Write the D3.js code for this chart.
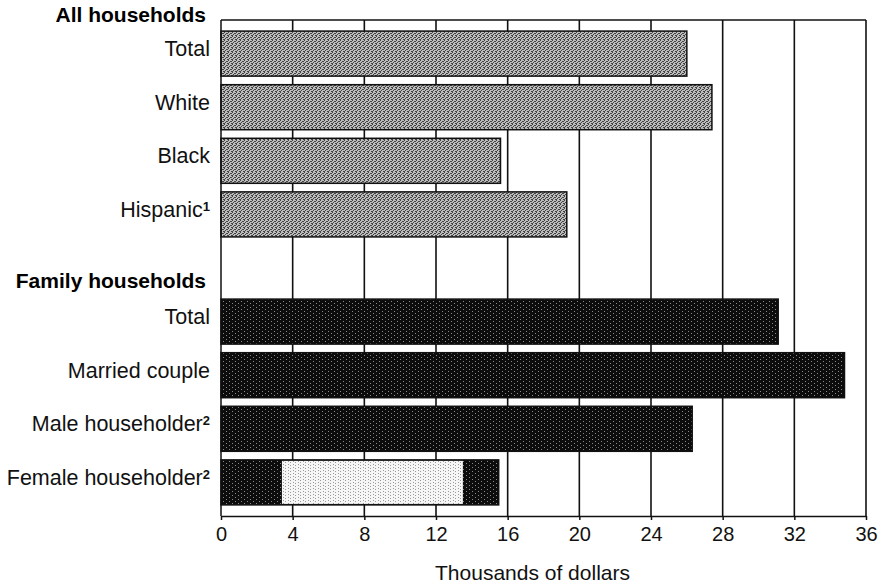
<!DOCTYPE html>
<html lang="en">
<head>
<meta charset="UTF-8" />
<title>Median income by household type</title>
<script src="https://d3js.org/d3.v7.min.js"></script>
<style>
  body { margin: 0; background: #fff; }
  svg { display: block; font-family: "Liberation Sans", Arial, Helvetica, sans-serif; }
  .label { font-size: 21.5px; fill: #111; }
  .head { font-size: 21px; font-weight: bold; fill: #000; }
  .title { font-size: 21px; fill: #111; }
  .axis text { font-size: 20px; fill: #111; }
  .axis path, .axis line { stroke: #111; stroke-width: 1.5; }
</style>
</head>
<body>
<div id="chart"></div>
<script>
// rows from top to bottom, the "fam-head" row only carries the group heading
const rows = ["all-total", "all-white", "all-black", "all-hispanic", "fam-head",
              "fam-total", "fam-married", "fam-male", "fam-female"];
const rowLabels = ["Total", "White", "Black", "Hispanic", "Family households",
                   "Total", "Married couple", "Male householder", "Female householder"];
const rowNotes = ["", "", "", "1", "", "", "", "2", "2"];
const rowGroups = ["all", "all", "all", "all", "header", "family", "family", "family", "family"];
const incomes = [26.0, 27.4, 15.6, 19.3, null, 31.1, 34.8, 26.3, 15.5];   // thousands of dollars
const xTicks = [0, 4, 8, 12, 16, 20, 24, 28, 32, 36];
const topHeading = "All households";
const xTitle = "Thousands of dollars";
// pale, washed-out stretch inside the female householder bar
const femaleLightSpan = [3.4, 13.5];

const W = 880, H = 585;
const margin = { top: 20, right: 14, bottom: 69, left: 221 };

const svg = d3.select("#chart").append("svg")
    .attr("width", W)
    .attr("height", H);

svg.append("rect").attr("width", W).attr("height", H).attr("fill", "#fff");

// halftone-like fills
const defs = svg.append("defs");
const grayPat = defs.append("pattern").attr("id", "gray")
    .attr("patternUnits", "userSpaceOnUse").attr("width", 4).attr("height", 4);
grayPat.append("rect").attr("width", 4).attr("height", 4).attr("fill", "#bcbcbc");
[[0, 0], [2, 1], [1, 2], [3, 3], [3, 1], [0, 3]].forEach(p =>
    grayPat.append("rect").attr("x", p[0]).attr("y", p[1]).attr("width", 1).attr("height", 1).attr("fill", "#444"));

const darkPat = defs.append("pattern").attr("id", "dark")
    .attr("patternUnits", "userSpaceOnUse").attr("width", 6).attr("height", 4);
darkPat.append("rect").attr("width", 6).attr("height", 4).attr("fill", "#0c0c0c");
[[1, 1], [4, 3]].forEach(p =>
    darkPat.append("rect").attr("x", p[0]).attr("y", p[1]).attr("width", 1).attr("height", 1).attr("fill", "#8a8a8a"));

const palePat = defs.append("pattern").attr("id", "pale")
    .attr("patternUnits", "userSpaceOnUse").attr("width", 5).attr("height", 3);
palePat.append("rect").attr("width", 5).attr("height", 3).attr("fill", "#f6f6f6");
[[0, 0], [3, 2]].forEach(p =>
    palePat.append("rect").attr("x", p[0]).attr("y", p[1]).attr("width", 1).attr("height", 1).attr("fill", "#9a9a9a"));

const x = d3.scaleLinear()
    .domain([0, 36])
    .range([margin.left, W - margin.right]);

const y = d3.scaleBand()
    .domain(rows)
    .range([margin.top, H - margin.bottom])
    .paddingInner(0.16)
    .paddingOuter(0.207);

const data = rows.map((id, i) => ({
    id, label: rowLabels[i], note: rowNotes[i], group: rowGroups[i], value: incomes[i]
}));

// vertical grid lines behind the bars
svg.append("g")
    .selectAll("line")
    .data(xTicks.slice(1))
    .join("line")
    .attr("x1", d => x(d)).attr("x2", d => x(d))
    .attr("y1", margin.top).attr("y2", H - margin.bottom)
    .attr("stroke", "#111").attr("stroke-width", 1.6);

// bars
const bars = data.filter(d => d.value != null);
svg.append("g")
    .selectAll("rect")
    .data(bars)
    .join("rect")
    .attr("x", x(0))
    .attr("y", d => y(d.id))
    .attr("width", d => x(d.value) - x(0))
    .attr("height", y.bandwidth())
    .attr("fill", d => d.group === "all" ? "url(#gray)" : "url(#dark)")
    .attr("stroke", "#111")
    .attr("stroke-width", 1.5);

svg.append("rect")
    .attr("x", x(femaleLightSpan[0]))
    .attr("y", y("fam-female") + 1)
    .attr("width", x(femaleLightSpan[1]) - x(femaleLightSpan[0]))
    .attr("height", y.bandwidth() - 2)
    .attr("fill", "url(#pale)");

// frame: top and left
svg.append("line")
    .attr("x1", x(0)).attr("x2", x(36))
    .attr("y1", margin.top).attr("y2", margin.top)
    .attr("stroke", "#111").attr("stroke-width", 1.5);
svg.append("line")
    .attr("x1", x(0)).attr("x2", x(0))
    .attr("y1", margin.top).attr("y2", H - margin.bottom)
    .attr("stroke", "#111").attr("stroke-width", 1.5);

// x axis
svg.append("g")
    .attr("class", "axis")
    .attr("transform", `translate(0,${H - margin.bottom})`)
    .call(d3.axisBottom(x).tickValues(xTicks).tickSize(4).tickSizeOuter(0).tickPadding(7))
    .call(g => g.selectAll("text").attr("font-family", null));

svg.append("text")
    .attr("class", "title")
    .attr("x", (x(0) + x(36)) / 2 - 11)
    .attr("y", H - 5)
    .attr("text-anchor", "middle")
    .text(xTitle);

// row labels
const labels = svg.append("g")
    .selectAll("text")
    .data(data)
    .join("text")
    .attr("class", d => d.group === "header" ? "head" : "label")
    .attr("x", d => d.group === "header" ? 206 : 210)
    .attr("y", d => y(d.id) + y.bandwidth() / 2 + (d.group === "header" ? 13 : -5))
    .attr("dy", "0.35em")
    .attr("text-anchor", "end");

labels.append("tspan").text(d => d.label);
labels.filter(d => d.note)
    .append("tspan")
    .attr("dy", "-0.45em")
    .style("font-size", "13px")
    .style("font-weight", "bold")
    .text(d => d.note);

svg.append("text")
    .attr("class", "head")
    .attr("x", 206)
    .attr("y", margin.top - 5)
    .attr("dy", "0.35em")
    .attr("text-anchor", "end")
    .text(topHeading);
</script>
</body>
</html>
